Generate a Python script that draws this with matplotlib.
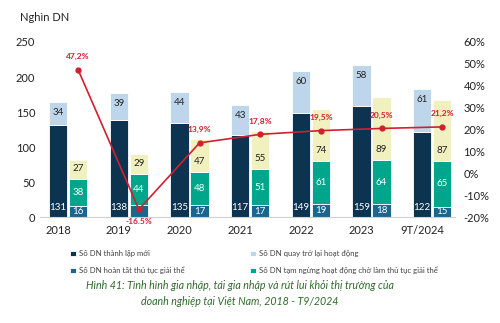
import matplotlib.pyplot as plt
import numpy as np

plt.rcParams['font.family'] = ['Lato', 'DejaVu Sans']

years = ['2018', '2019', '2020', '2021', '2022', '2023', '9T/2024']
thanh_lap = [131, 138, 135, 117, 149, 159, 122]     # Số DN thành lập mới
quay_lai = [34, 39, 44, 43, 60, 58, 61]             # Số DN quay trở lại hoạt động
giai_the = [16, 17, 17, 17, 19, 18, 15]             # Số DN hoàn tất thủ tục giải thể
cho_giai_the = [38, 44, 48, 51, 61, 64, 65]         # Số DN tạm ngừng hoạt động chờ làm thủ tục giải thể
ngung_kd = [27, 29, 47, 55, 74, 89, 87]             # phần vàng (không có chú thích)
tang_truong = [47.2, -16.5, 13.9, 17.8, 19.5, 20.5, 21.2]
tang_truong_lbl = ['47,2%', '-16.5%', '13,9%', '17,8%', '19,5%', '20,5%', '21,2%']

c_navy = '#0c3350'
c_lblue = '#bdd6ec'
c_blue = '#19668f'
c_teal = '#00a68c'
c_yellow = '#f1f1bf'
c_red = '#d02030'

fig = plt.figure(figsize=(5, 3.23), dpi=100)
ax = fig.add_axes([0.08, 0.328, 0.83, 0.542])

x = np.arange(len(years))
w = 0.30
x2 = x + 0.33

b1 = ax.bar(x, thanh_lap, w, color=c_navy, edgecolor='white', linewidth=0.6, label='Số DN thành lập mới')
b2 = ax.bar(x, quay_lai, w, bottom=thanh_lap, color=c_lblue, edgecolor='white', linewidth=0.6,
            label='Số DN quay trở lại hoạt động')
b3 = ax.bar(x2, giai_the, w, color=c_blue, edgecolor='white', linewidth=0.6, label='Số DN hoàn tất thủ tục giải thể')
bot2 = np.array(giai_the)
b4 = ax.bar(x2, cho_giai_the, w, bottom=bot2, color=c_teal, edgecolor='white', linewidth=0.6,
            label='Số DN tạm ngừng hoạt động chờ làm thủ tục giải thể')
bot3 = bot2 + np.array(cho_giai_the)
b5 = ax.bar(x2, ngung_kd, w, bottom=bot3, color=c_yellow, edgecolor='white', linewidth=0.6)

# nhãn số liệu: đặt gần đáy / gần đỉnh như bản gốc (để tránh đường tăng trưởng)
fs = 7
for i in range(len(years)):
    ax.text(x[i], 14, str(thanh_lap[i]), ha='center', va='center', color='white', fontsize=fs)
    ax.text(x[i], thanh_lap[i] + quay_lai[i] - 15, str(quay_lai[i]), ha='center', va='center',
            color='#222222', fontsize=fs)
    if i != 1:
        ax.text(x2[i], giai_the[i] / 2, str(giai_the[i]), ha='center', va='center', color='white', fontsize=fs)
    ax.text(x2[i], bot2[i] + cho_giai_the[i] / 2, str(cho_giai_the[i]), ha='center', va='center',
            color='white', fontsize=fs)
    ax.text(x2[i], bot3[i] + 15, str(ngung_kd[i]), ha='center', va='center',
            color='#222222', fontsize=fs)

ax.set_xlim(-0.30, 6.54)
ax.set_ylim(0, 250)
ax.set_yticks([0, 50, 100, 150, 200, 250])
ax.set_xticks(x)
ax.set_xticklabels(years)
ax.tick_params(axis='both', length=0, labelsize=8, colors='#222222')
ax.tick_params(axis='x', pad=6)
for s in ['top', 'right', 'left']:
    ax.spines[s].set_visible(False)
ax.spines['bottom'].set_color('#d0d0d0')
ax.spines['bottom'].set_linewidth(0.8)

ax2 = ax.twinx()
ax2.set_ylim(-20, 60)
ax2.set_yticks(np.arange(-20, 61, 10))
ax2.set_yticklabels([f'{v}%' for v in range(-20, 61, 10)])
ax2.tick_params(axis='y', length=0, labelsize=8, colors='#222222', pad=6)
for s in ax2.spines.values():
    s.set_visible(False)
ax2.plot(x2, tang_truong, color=c_red, linewidth=1.2, marker='o', markersize=3.5, zorder=5)
for i, v in enumerate(tang_truong):
    dy = -5.5 if v < 0 else 6
    ax2.text(x2[i], v + dy, tang_truong_lbl[i], ha='center', va='center', color=c_red,
             fontsize=6, fontweight='bold')

fig.text(0.04, 0.945, 'Nghìn DN', fontsize=8, color='#222222', ha='left', va='center')

handles = [b1, b2, b3, b4]
labels = [h.get_label() for h in handles]
fig.legend([handles[0], handles[2], handles[1], handles[3]],
           [labels[0], labels[2], labels[1], labels[3]],
           ncol=2, loc='center', bbox_to_anchor=(0.508, 0.188), frameon=False, fontsize=5.6,
           handlelength=0.7, handleheight=0.7, columnspacing=8.5, labelspacing=1.15,
           handletextpad=0.4, labelcolor='#404040')

fig.text(0.48, 0.091, 'Hình 41: Tình hình gia nhập, tái gia nhập và rút lui khỏi thị trường của\n'
                      'doanh nghiệp tại Việt Nam, 2018 - T9/2024',
         ha='center', va='center', fontsize=7.7, style='italic', color='#2f6a2a', linespacing=1.55)

fig.savefig('out.png', dpi=100)
